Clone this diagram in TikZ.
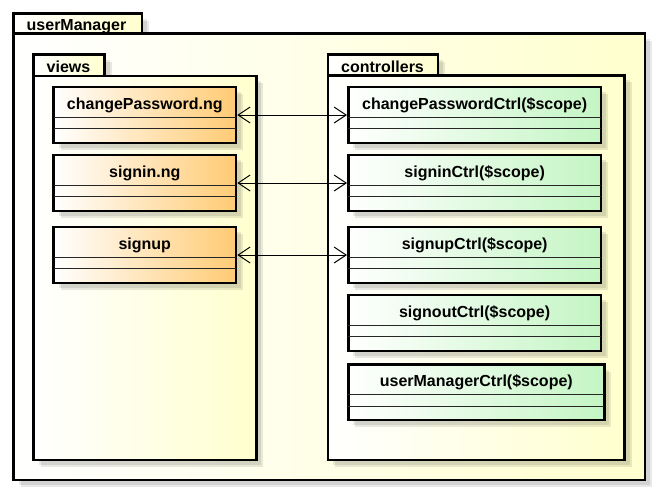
\documentclass[tikz,border=0pt]{standalone}
\usepackage{fontspec}
\setmainfont{Liberation Sans}
\usetikzlibrary{arrows.meta}
\definecolor{pkgyellow}{HTML}{FFFFCE}
\definecolor{clsorange}{HTML}{FFCB74}
\definecolor{clsgreen}{HTML}{C4F5C4}
\pgfdeclarehorizontalshading{orangelin}{100bp}{color(0bp)=(white); color(25bp)=(white); color(75bp)=(clsorange); color(100bp)=(clsorange)}
\pgfdeclarehorizontalshading{greenlin}{100bp}{color(0bp)=(white); color(25bp)=(white); color(75bp)=(clsgreen); color(100bp)=(clsgreen)}
\pgfdeclarehorizontalshading{yellowlin}{100bp}{color(0bp)=(white); color(25bp)=(white); color(75bp)=(pkgyellow); color(100bp)=(pkgyellow)}
\newcommand{\lblfont}{\fontsize{16}{19}\selectfont\bfseries}
\tikzset{
  thickbox/.style={draw=black, line width=2.6pt},
  shadowA/.style={fill=black, fill opacity=0.09},
  shadowB/.style={fill=black, fill opacity=0.09},
  sepline/.style={draw=black!85, line width=1pt},
  lbl/.style={font=\lblfont, inner sep=0pt, text=black},
  assoc/.style={draw=black, line width=1pt,
    arrows={Straight Barb[length=12pt,width=16pt,line width=1pt]-Straight Barb[length=12pt,width=16pt,line width=1pt]}},
}
% name, x1, y1, x2, y2, text, shading
\newcommand{\umlclass}[7]{%
  \fill[shadowA] (#2+7,#3+7) rectangle (#4+7,#5+7);
  \fill[shadowB] (#2+5,#3+5) rectangle (#4+5,#5+5);
  \node[thickbox, shading=#7, inner sep=0pt,
        minimum width={#4-#2}, minimum height={#5-#3}] (#1) at ({(#2+#4)/2},{(#3+#5)/2}) {};
  \node[lbl, anchor=base] (#1-name) at ({(#2+#4)/2},#3+22) {#6};
  \draw[sepline] (#2,#3+30.3) -- (#4,#3+30.3);
  \draw[sepline] (#2,#3+41.5) -- (#4,#3+41.5);
}
% name, x1, tabtop, tabright, bodytop, x2, bodybottom, text
\newcommand{\umlpackage}[8]{%
  \fill[shadowA] (#2+7,#3+7) rectangle (#4+7,#5+7);
  \fill[shadowB] (#2+5,#3+5) rectangle (#4+5,#5+5);
  \fill[shadowA] (#2+7,#5+7) rectangle (#6+7,#7+7);
  \fill[shadowB] (#2+5,#5+5) rectangle (#6+5,#7+5);
  \path[thickbox, shading=yellowlin] (#2,#3) rectangle (#4,#5);
  \node[lbl, anchor=base west] (#1-name) at (#2+13,#5-3.3) {#8};
  \path[thickbox, shading=yellowlin] (#2,#5) rectangle (#6,#7);
  \coordinate (#1) at ({(#2+#6)/2},{(#5+#7)/2});
}
\begin{document}
\begin{tikzpicture}[x=1pt,y=-1pt]
\useasboundingbox[fill=white] (0,0) rectangle (657,493);
\umlpackage{um}{13.5}{13.5}{142}{33.7}{645}{480}{userManager}
\umlpackage{vw}{33.5}{54.7}{104.7}{76}{256.3}{460}{views}
\umlpackage{ct}{328}{54.7}{438}{75.3}{624.5}{460}{controllers}
% views
\umlclass{cpv}{53.5}{87}{236}{143}{changePassword.ng}{orangelin}
\umlclass{siv}{53.5}{155}{236}{211}{signin.ng}{orangelin}
\umlclass{suv}{53.5}{227}{236}{283}{signup}{orangelin}
% controllers
\umlclass{cpc}{348.3}{87}{601}{143}{changePasswordCtrl(\$scope)}{greenlin}
\umlclass{sic}{348.3}{155}{601}{211}{signinCtrl(\$scope)}{greenlin}
\umlclass{suc}{348.3}{227}{601}{283}{signupCtrl(\$scope)}{greenlin}
\umlclass{soc}{348.3}{295}{601}{351}{signoutCtrl(\$scope)}{greenlin}
\umlclass{umc}{348.3}{364.5}{604.3}{420}{userManagerCtrl(\$scope)}{greenlin}
% associations
\draw[assoc] (cpv) -- (cpc);
\draw[assoc] (siv) -- (sic);
\draw[assoc] (suv) -- (suc);
\end{tikzpicture}
\end{document}
